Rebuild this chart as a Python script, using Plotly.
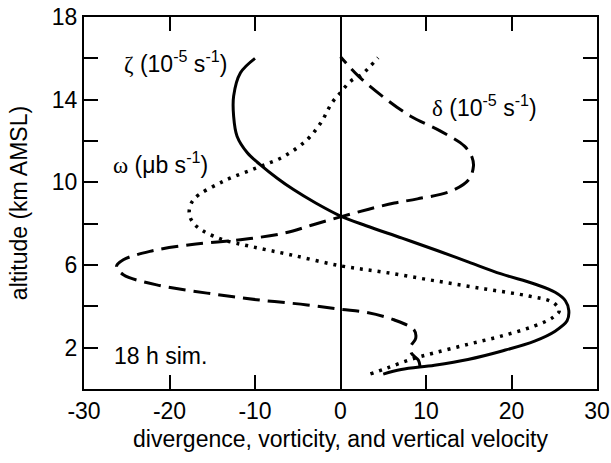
import plotly.graph_objects as go

# ---- data ----
zeta_alt = [0.72, 0.94, 1.15, 1.43, 1.83, 2.32, 2.8, 3.3, 3.8, 4.27, 4.68, 5.08, 5.57, 6.14,
            6.7, 7.3, 7.9, 8.37, 9.0, 9.65, 10.2, 10.86, 11.43, 12.23, 13.2, 14.17, 15.3, 16.0]
zeta_val = [5.0, 7.1, 11.0, 14.9, 18.8, 22.7, 25.1, 26.5, 26.7, 26.3, 25.1, 22.7, 18.8, 15.0,
            11.3, 7.2, 3.0, 0.0, -2.9, -5.5, -7.4, -9.4, -10.9, -12.1, -12.5, -12.5, -11.7, -10.0]

delta_alt = [1.1, 1.4, 1.73, 2.05, 2.46, 2.86, 3.35, 3.7, 3.86, 4.07, 4.32, 4.64, 5.04,
             5.53, 5.93, 6.25, 6.66, 6.98, 7.22, 7.55, 7.95, 8.33, 8.7, 9.0, 9.2, 9.57, 10.13,
             10.78, 11.19, 11.75, 12.48, 13.2, 14.1, 15.14, 16.08]
delta_val = [9.3, 9.1, 8.3, 8.2, 8.8, 8.6, 6.25, 3.1, 0.0, -3.9, -9.8, -15.6, -21.5,
             -25.4, -26.2, -25.4, -22.3, -17.6, -11.7, -6.5, -3.2, 0.0, 3.3, 6.3, 9.0, 12.9, 15.0,
             15.55, 15.4, 14.5, 11.7, 8.2, 5.1, 2.1, 0.0]

omega_alt = [0.73, 1.02, 1.43, 1.75, 2.16, 2.56, 3.05, 3.45, 3.8, 4.2, 4.5, 4.84, 5.24, 5.65,
             5.96, 6.5, 6.9, 7.22, 7.63, 8.03, 8.5, 9.16, 10.05, 10.7, 11.26, 12.07, 12.88,
             13.85, 14.34, 14.9, 15.22, 15.63, 16.03]
omega_val = [3.5, 5.5, 8.2, 11.0, 14.9, 18.8, 22.7, 24.8, 25.6, 24.8, 22.0, 16.9, 11.0, 5.1,
             0.0, -5.9, -10.5, -13.7, -16.0, -17.2, -17.7, -17.2, -13.7, -9.8, -6.6, -3.9, -2.3,
             -1.0, 0.0, 1.2, 2.5, 3.5, 4.4]

x_ticks = [-30, -20, -10, 0, 10, 20, 30]
x_ticklabels = ["-30", "-20", "-10", "0", "10", "20", "30"]
y_ticks = [0, 2, 4, 6, 8, 10, 12, 14, 16, 18]
y_ticklabels = ["", "2", "", "6", "", "10", "", "14", "", "18"]

FONT = "Liberation Sans"
SERIF = "Liberation Serif"
FS = 23

fig = go.Figure()
fig.add_trace(go.Scatter(x=zeta_val, y=zeta_alt, mode="lines",
                         line=dict(color="black", width=3, shape="spline", smoothing=1.0),
                         showlegend=False, hoverinfo="skip"))
fig.add_trace(go.Scatter(x=delta_val, y=delta_alt, mode="lines",
                         line=dict(color="black", width=3, dash="17px,8px", shape="spline", smoothing=1.0),
                         showlegend=False, hoverinfo="skip"))
fig.add_trace(go.Scatter(x=omega_val, y=omega_alt, mode="lines",
                         line=dict(color="black", width=3.5, dash="3px,6px", shape="spline", smoothing=1.0),
                         showlegend=False, hoverinfo="skip"))

axis_common = dict(showline=True, linecolor="black", linewidth=2, mirror="ticks",
                   ticks="inside", ticklen=14, tickwidth=2, tickcolor="black",
                   showgrid=False, automargin=False,
                   tickfont=dict(family=FONT, size=FS, color="black"))

fig.update_xaxes(range=[-30, 30], tickvals=x_ticks, ticktext=x_ticklabels,
                 zeroline=True, zerolinecolor="black", zerolinewidth=1.5,
                 title=dict(text="divergence, vorticity, and vertical velocity",
                            font=dict(family=FONT, size=FS, color="black"), standoff=8),
                 **axis_common)
fig.update_yaxes(range=[0, 18], tickvals=y_ticks, ticktext=y_ticklabels, zeroline=False,
                 title=dict(text="altitude (km AMSL)",
                            font=dict(family=FONT, size=FS, color="black"), standoff=18),
                 **axis_common)

def greek(ch):
    return f'<span style="font-family:{SERIF}">{ch}</span>'

annots = [
    (-19.3, 15.8, greek("ζ") + " (10<sup>-5</sup> s<sup>-1</sup>)"),
    (-21.0, 10.95, greek("ω") + " (μb s<sup>-1</sup>)"),
    (16.8, 13.7, greek("δ") + " (10<sup>-5</sup> s<sup>-1</sup>)"),
    (-21.0, 1.6, "18 h sim."),
]
for x, y, t in annots:
    fig.add_annotation(x=x, y=y, xref="x", yref="y", text=t, showarrow=False,
                       font=dict(family=FONT, size=FS, color="black"))

fig.update_layout(width=611, height=463, margin=dict(l=84, r=14, t=17, b=74),
                  paper_bgcolor="white", plot_bgcolor="white",
                  font=dict(family=FONT, size=FS, color="black"))

fig.write_html("out.html", config={"displayModeBar": False},
               post_script="document.body.style.margin='0';document.body.style.padding='0';")
